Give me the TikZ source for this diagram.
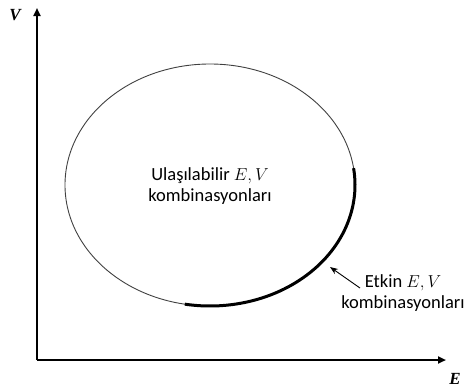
\documentclass[tikz,border=0pt]{standalone}
\usepackage{fontspec}
\setmainfont{Carlito}
\newfontfamily\axisfont{Liberation Serif}
\usetikzlibrary{shapes.geometric,arrows.meta,calc}
\tikzset{
  axis/.style={line width=2.4pt,-{Triangle[length=8pt,width=7pt]}},
  reachable/.style={draw=black!75,line width=0.9pt,ellipse,minimum width=290pt,minimum height=242pt,inner sep=0pt},
  efficient/.style={line width=3pt},
  lbl/.style={font=\fontsize{18.5}{21}\selectfont,align=center,inner sep=0pt},
  axlbl/.style={font=\axisfont\bfseries\itshape\fontsize{17}{17}\selectfont,inner sep=0pt},
  pointer/.style={line width=0.9pt,-{Stealth[length=8pt,width=6pt]}}
}
\begin{document}
\begin{tikzpicture}[x=1pt,y=-1pt]
\useasboundingbox (0,0) rectangle (466,391);
\coordinate (O) at (37,360);
\coordinate (Vtip) at (37,8);
\coordinate (Etip) at (446,360);
\draw[axis] (O) -- (Vtip);
\draw[axis] (O) -- (Etip);
\node[axlbl] (V) at (15,15) {V};
\node[axlbl] (E) at (455,379) {E};
\node[reachable] (reach) at (210,185) {};
\node[lbl] (reachtxt) at (210,186) {Ulaşılabilir $E,V$\\kombinasyonları};
\draw[efficient] ($(reach.center)+(-8:145 and 121)$) arc[start angle=-8,end angle=100,x radius=145,y radius=121];
\node[lbl] (efftxt) at (403,293) {Etkin $E,V$\\kombinasyonları};
\coordinate (ptail) at (360,288);
\coordinate (ptip) at (330,267);
\draw[pointer] (ptail) -- (ptip);
\end{tikzpicture}
\end{document}
